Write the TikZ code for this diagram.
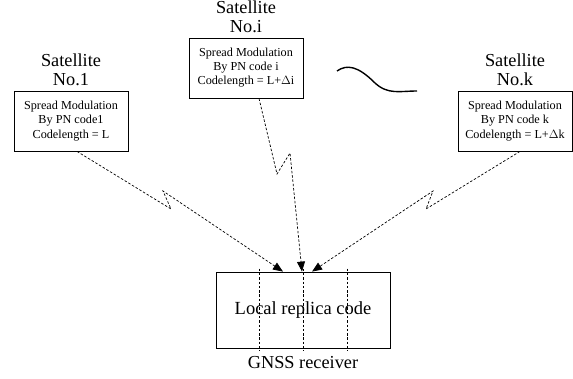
\documentclass[tikz,border=0pt]{standalone}
\usepackage{fontspec}
\setmainfont{Liberation Serif}
\usetikzlibrary{arrows.meta,calc}
\begin{document}
\begin{tikzpicture}[x=1pt,y=-1pt,
  satbox/.style={draw,line width=0.8pt,minimum width=114pt,minimum height=60pt,inner sep=0pt,align=center,
    font=\fontsize{12.2}{13.2}\selectfont},
  satlabel/.style={align=center,font=\fontsize{18.3}{18.5}\selectfont,inner sep=0pt,anchor=south},
  rxbox/.style={draw,line width=0.8pt,minimum width=174pt,minimum height=76pt,inner sep=0pt,
    font=\fontsize{18.5}{19}\selectfont},
  link/.style={dashed,dash pattern=on 2.5pt off 1.8pt,line width=0.7pt,-{Triangle[length=10pt,width=8pt]}},
  divider/.style={dashed,dash pattern=on 2.5pt off 1.8pt,line width=0.7pt},
  wave/.style={line width=1.4pt}]
\useasboundingbox (0,0) rectangle (573,378);

\node[satbox] (b1) at (71,121) {\raisebox{-2pt}{\shortstack{Spread Modulation\\By PN code1\\Codelength = L}}};
\node[satbox] (bi) at (246,68) {\raisebox{-2pt}{\shortstack{Spread Modulation\\By PN code i\\Codelength = L+$\Delta$i}}};
\node[satbox] (bk) at (515,121) {\raisebox{-2pt}{\shortstack{Spread Modulation\\By PN code k\\Codelength = L+$\Delta$k}}};

\node[satlabel] (l1) at ($(b1.north)+(0,-5)$) {Satellite\\No.1};
\node[satlabel] (li) at ($(bi.north)+(0,-5)$) {Satellite\\No.i};
\node[satlabel] (lk) at ($(bk.north)+(0,-5)$) {Satellite\\No.k};

\node[rxbox] (rx) at (303,310) {Local replica code};
\node[font=\fontsize{18.3}{19}\selectfont,anchor=north,inner sep=0pt] (gnss) at ($(rx.south)+(0,8)$) {GNSS receiver};

\foreach \dx in {-44,0,44}
  \draw[divider] ($(rx.north)+(\dx,-3)$) -- ($(rx.south)+(\dx,3)$);

\draw[link] ($(b1.south)+(6,0)$) -- (171,209) -- (163,191) -- ($(rx.north)+(-20,0)$);
\draw[link] ($(bi.south)+(13,0)$) -- (277,174) -- (290,153) -- ($(rx.north)+(-1,0)$);
\draw[link] ($(bk.south)+(5,0)$) -- (426,209) -- (433,191) -- ($(rx.north)+(9,0)$);

\draw[wave] (337,71) .. controls (347,64) and (358,66) .. (375,83) .. controls (388,95) and (400,91) .. (417,91);
\end{tikzpicture}
\end{document}
